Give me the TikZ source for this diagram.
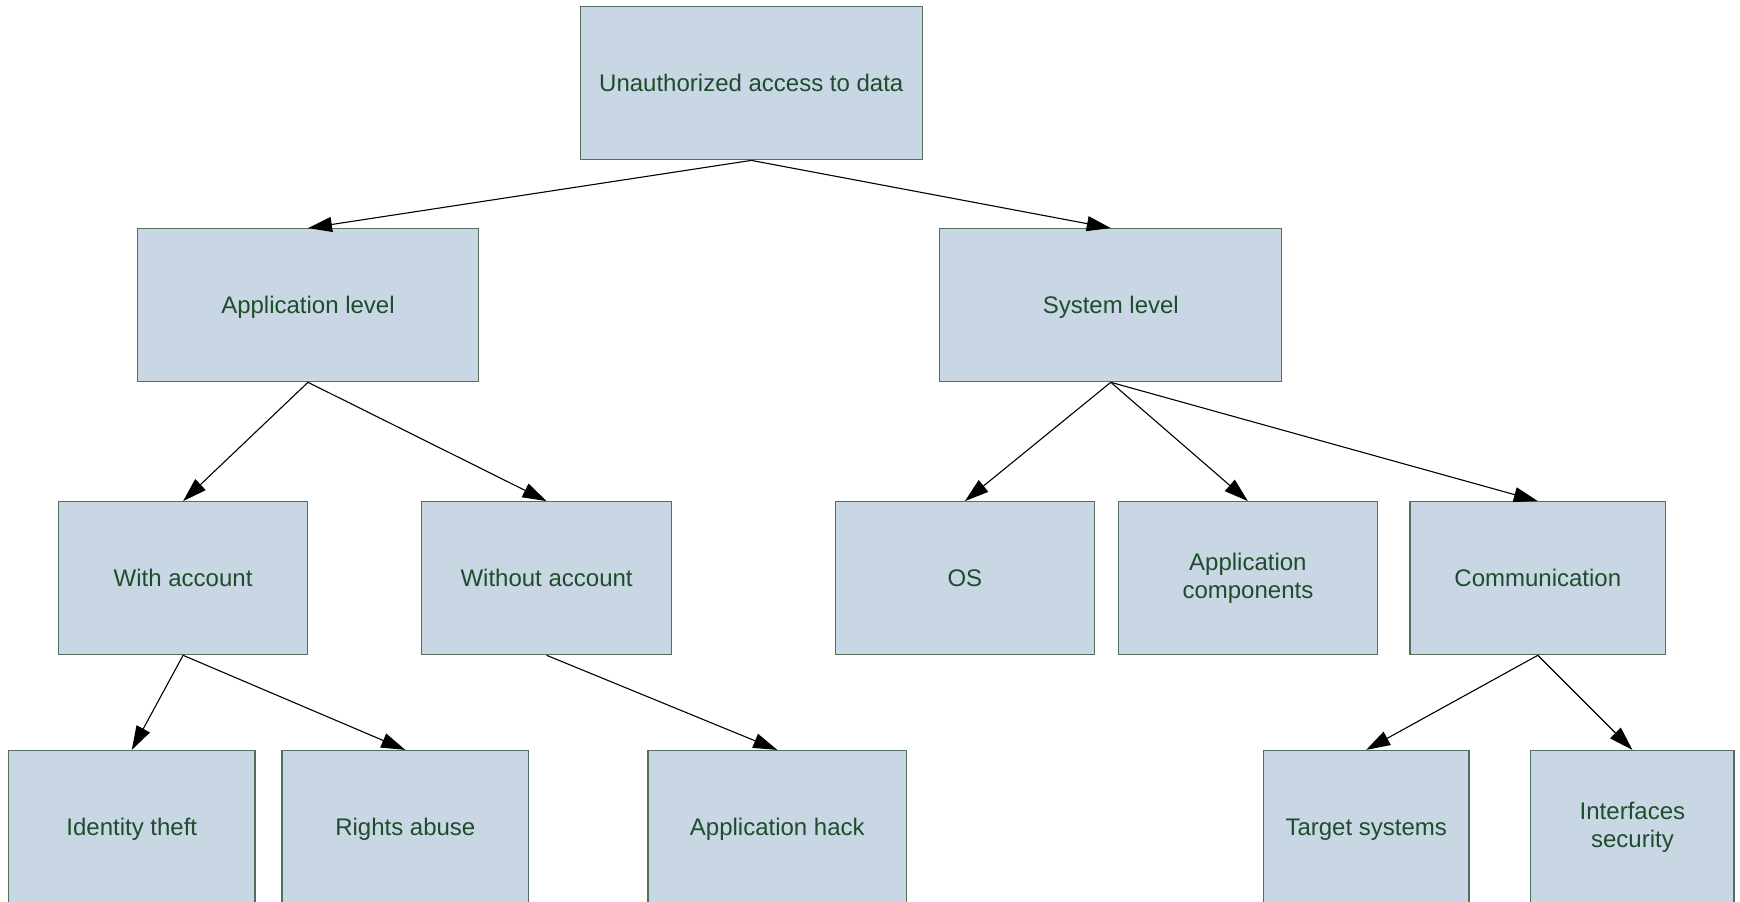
\documentclass[tikz,border=0pt]{standalone}
\usepackage{fontspec}
\setmainfont{Liberation Sans}
\usetikzlibrary{arrows.meta}
\definecolor{boxfill}{HTML}{C9D6E4}
\definecolor{boxline}{HTML}{52705C}
\definecolor{boxtext}{HTML}{1E4D2E}
\tikzset{
  box/.style={draw=boxline, fill=boxfill, line width=1.2pt, inner sep=0pt,
    minimum height=153pt, text=boxtext, align=center,
    font=\fontsize{24}{27.8}\selectfont},
  oneline/.style={text height=17.2pt, text depth=0pt},
  link/.style={draw=black, line width=1.1pt,
    -{Triangle[length=24pt,width=15pt]}}
}
\begin{document}
\begin{tikzpicture}[x=1pt,y=-1pt]
\useasboundingbox (0,0) rectangle (1740,902);
\clip (0,0) rectangle (1740,902);

% root
\node[box,oneline,minimum width=342pt] (root) at (751.3,83.3) {Unauthorized access to data};

% second level
\node[box,oneline,minimum width=341pt] (app) at (308,305.2) {Application level};
\node[box,oneline,minimum width=342pt] (sys) at (1110.8,305.2) {System level};

% third level
\node[box,oneline,minimum width=249pt] (with) at (183.1,578.2) {With account};
\node[box,oneline,minimum width=250pt] (without) at (546.6,578.2) {Without account};
\node[box,oneline,minimum width=258.6pt] (os) at (964.9,578.2) {OS};
\node[box,minimum width=258.6pt] (comp) at (1247.9,578.2) {Application\\components};
\node[box,oneline,minimum width=255.5pt] (comm) at (1537.8,578.2) {Communication};

% fourth level
\node[box,oneline,minimum width=246.4pt] (ident) at (131.8,827) {Identity theft};
\node[box,oneline,minimum width=246.6pt] (rights) at (405.3,827) {Rights abuse};
\node[box,oneline,minimum width=258.6pt] (hack) at (777.3,827) {Application hack};
\node[box,oneline,minimum width=205.7pt] (target) at (1366.2,827) {Target systems};
\node[box,minimum width=203.3pt] (iface) at (1632.4,827) {Interfaces\\security};

% connectors
\draw[link] (root.south) -- (app.north);
\draw[link] (root.south) -- (sys.north);
\draw[link] (app.south) -- (with.north);
\draw[link] (app.south) -- (without.north);
\draw[link] (sys.south) -- (os.north);
\draw[link] (sys.south) -- (comp.north);
\draw[link] (sys.south) -- (comm.north);
\draw[link] (with.south) -- (ident.north);
\draw[link] (with.south) -- (rights.north);
\draw[link] (without.south) -- (hack.north);
\draw[link] (comm.south) -- (target.north);
\draw[link] (comm.south) -- (iface.north);
\end{tikzpicture}
\end{document}
